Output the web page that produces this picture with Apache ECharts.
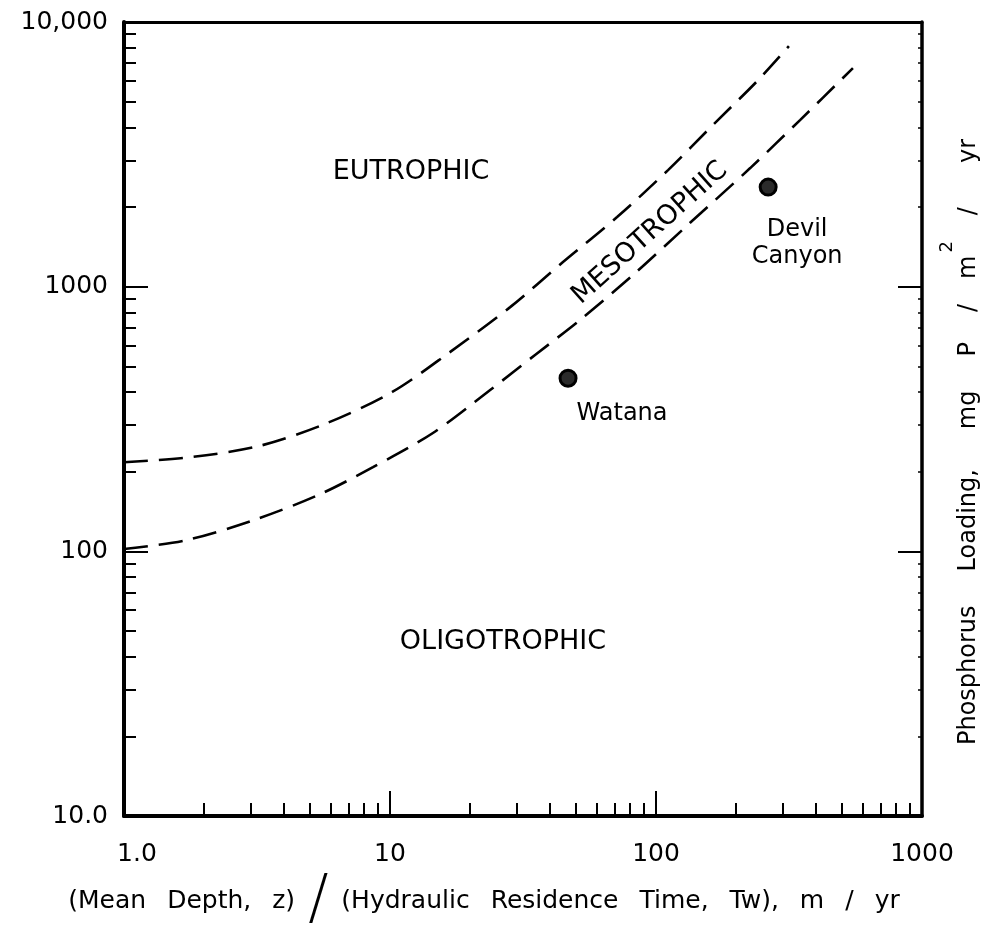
<!DOCTYPE html>
<html>
<head>
<meta charset="utf-8">
<script src="https://cdn.jsdelivr.net/npm/echarts@6/dist/echarts.min.js"></script>
<style>
  html, body { margin: 0; padding: 0; background: #fff; }
  #chart { width: 993px; height: 927px; }
</style>
</head>
<body>
<div id="chart"></div>
<script>
// Trophic-state boundaries: phosphorus loading vs. z / Tw (log-log)
const upperX = [1.0, 1.79, 3.22, 5.70, 10.2, 16.8, 28.3, 44.7, 71.4, 111, 165, 240, 316];
const upperY = [217, 227, 250, 303, 400, 566, 837, 1239, 1832, 2757, 4115, 5978, 8110];
const lowerX = [1.0, 1.70, 3.06, 5.36, 8.63, 14.5, 23.8, 35.1, 51.8, 81.9, 134, 226, 348, 550];
const lowerY = [102, 110, 131, 163, 208, 280, 407, 552, 748, 1106, 1739, 2806, 4260, 6696];

// Reservoir sites
const siteNames = ['Watana', 'Devil\nCanyon'];
const siteX = [46.7, 264];
const siteY = [451, 2378];

// Trophic zone names and where they sit on the plot
const zoneNames = ['EUTROPHIC', 'MESOTROPHIC', 'OLIGOTROPHIC'];
const zoneX = [12.0, 94.9, 26.6];
const zoneY = [2710, 1594, 45.4];

// Tick labels
const xTickValues = [1, 10, 100, 1000];
const xTickLabels = ['1.0', '10', '100', '1000'];
const yTickValues = [10, 100, 1000, 10000];
const yTickLabels = ['10.0', '100', '1000', '10,000'];
const xMinorTicks = [2,3,4,5,6,7,8,9,20,30,40,50,60,70,80,90,200,300,400,500,600,700,800,900];
const yMinorTicks = [20,30,40,50,60,70,80,90,200,300,400,500,600,700,800,900,2000,3000,4000,5000,6000,7000,8000,9000];

// Axis titles, word by word
const xTitleLeft = ['(Mean', 'Depth,', 'z)'];
const xTitleRight = ['(Hydraulic', 'Residence', 'Time,', 'Tw),', 'm', '/', 'yr'];
const yTitleWords = ['Phosphorus', 'Loading,', 'mg', 'P', '/', 'm', '2', '/', 'yr'];

const FONT = 'DejaVu Sans';
const INK = '#000';

const zip = (xs, ys) => xs.map((x, i) => [x, ys[i]]);

// x title: words separated by wide gaps, a tall slash between the two quantities
const xTitleRich = {
  t: { fontFamily: FONT, fontSize: 25, color: INK, lineHeight: 60 },
  g: { fontFamily: FONT, fontSize: 25, color: INK, lineHeight: 60, padding: [0, 0, 0, 21] },
  s: { fontFamily: FONT, fontSize: 60, color: INK, lineHeight: 60, padding: [0, 13, 0, 13], fontWeight: 'lighter' }
};
const wordTokens = words => words.map((w, i) => (i === 0 ? '{t|' : '{g|') + w + '}').join('');
const xTitle = wordTokens(xTitleLeft) + '{s|/}' + wordTokens(xTitleRight);

// y title: gap before each word, the "2" raised as a superscript
const yGaps = [0, 34, 40, 34, 30, 25, 3, 26, 44];
const yTitleRich = {};
const yTitle = yTitleWords.map((w, i) => {
  const key = 'w' + i;
  const sup = i === 6;
  yTitleRich[key] = {
    fontFamily: FONT, fontSize: sup ? 18 : 24, color: INK,
    padding: sup ? [0, 0, 44, yGaps[i]] : [0, 0, 0, yGaps[i]]
  };
  return '{' + key + '|' + w + '}';
}).join('');

const chart = echarts.init(document.getElementById('chart'), null, { renderer: 'canvas' });

const baseLog = { type: 'log', logBase: 10, gridIndex: 0, splitLine: { show: false } };

chart.setOption({
  animation: false,
  backgroundColor: '#fff',
  grid: { left: 124, right: 71, top: 22, bottom: 111, containLabel: false, outerBoundsMode: 'none' },
  xAxis: [
    Object.assign({}, baseLog, {
      min: 1, max: 1000, position: 'bottom',
      axisLine: { lineStyle: { color: INK, width: 4 } },
      axisTick: { inside: true, length: 25, lineStyle: { color: INK, width: 2 } },
      axisLabel: {
        margin: 26, color: INK, fontFamily: FONT, fontSize: 25,
        formatter: v => {
          const i = xTickValues.indexOf(Math.round(v));
          if (i < 0) return '';
          return i === 0 ? '{first|' + xTickLabels[i] + '}' : xTickLabels[i];
        },
        rich: { first: { fontFamily: FONT, fontSize: 25, color: INK, padding: [0, 0, 0, 26] } }
      },
      name: xTitle,
      nameLocation: 'middle', nameGap: 55,
      nameTextStyle: { padding: [0, 78, 0, 0], rich: xTitleRich }
    }),
    Object.assign({}, baseLog, {
      min: 1, max: 1000, position: 'bottom',
      axisLine: { show: false },
      axisTick: { inside: true, length: 13, customValues: xMinorTicks, lineStyle: { color: INK, width: 2 } },
      axisLabel: { show: false }
    }),
    Object.assign({}, baseLog, {
      min: 1, max: 1000, position: 'top',
      axisLine: { lineStyle: { color: INK, width: 3 } },
      axisTick: { show: false },
      axisLabel: { show: false }
    })
  ],
  yAxis: [
    Object.assign({}, baseLog, {
      min: 10, max: 10000, position: 'left',
      axisLine: { lineStyle: { color: INK, width: 4 } },
      axisTick: { inside: true, length: 24, lineStyle: { color: INK, width: 2 } },
      axisLabel: {
        margin: 16, color: INK, fontFamily: FONT, fontSize: 25,
        formatter: v => { const i = yTickValues.indexOf(Math.round(v)); return i >= 0 ? yTickLabels[i] : ''; }
      }
    }),
    Object.assign({}, baseLog, {
      min: 10, max: 10000, position: 'left',
      axisLine: { show: false },
      axisTick: { inside: true, length: 12, customValues: yMinorTicks, lineStyle: { color: INK, width: 2 } },
      axisLabel: { show: false }
    }),
    Object.assign({}, baseLog, {
      min: 10, max: 10000, position: 'right',
      axisLine: { lineStyle: { color: INK, width: 3.5 } },
      axisTick: { inside: true, length: 24, lineStyle: { color: INK, width: 2 } },
      axisLabel: { show: false },
      name: yTitle,
      nameLocation: 'middle', nameGap: 16, nameRotate: 90,
      nameTextStyle: { padding: [0, 46, 0, 0], rich: yTitleRich }
    }),
    Object.assign({}, baseLog, {
      min: 10, max: 10000, position: 'right',
      axisLine: { show: false },
      axisTick: { inside: true, length: 4, customValues: yMinorTicks, lineStyle: { color: INK, width: 1.5 } },
      axisLabel: { show: false }
    })
  ],
  series: [
    {
      name: 'Eutrophic boundary', type: 'line', xAxisIndex: 0, yAxisIndex: 0,
      data: zip(upperX, upperY), smooth: 0.3, symbol: 'none',
      lineStyle: { color: INK, width: 2.6, type: [24, 11] }
    },
    {
      name: 'Oligotrophic boundary', type: 'line', xAxisIndex: 0, yAxisIndex: 0,
      data: zip(lowerX, lowerY), smooth: 0.3, symbol: 'none',
      lineStyle: { color: INK, width: 2.6, type: [24, 11] }
    },
    {
      name: 'Sites', type: 'scatter', xAxisIndex: 0, yAxisIndex: 0,
      data: siteX.map((x, i) => ({
        value: [x, siteY[i]],
        label: i === 0
          ? { position: 'bottom', distance: 13, offset: [54, 0] }
          : { position: 'bottom', distance: 20, offset: [29, 0] }
      })),
      symbol: 'circle', symbolSize: 16,
      itemStyle: { color: '#2b2b2b', borderColor: '#000', borderWidth: 3, opacity: 1 },
      label: {
        show: true, align: 'center',
        formatter: p => siteNames[p.dataIndex],
        fontFamily: FONT, fontSize: 24, color: INK, lineHeight: 27, textBorderWidth: 0
      }
    },
    {
      name: 'Zones', type: 'scatter', xAxisIndex: 0, yAxisIndex: 0,
      data: zoneX.map((x, i) => ({
        value: [x, zoneY[i]],
        label: { rotate: i === 1 ? 42 : 0 }
      })),
      symbolSize: 0, silent: true,
      itemStyle: { opacity: 1, color: INK },
      label: {
        show: true, position: 'inside',
        formatter: p => zoneNames[p.dataIndex],
        fontFamily: FONT, fontSize: 27, color: INK, textBorderWidth: 0
      }
    }
  ]
});
</script>
</body>
</html>
